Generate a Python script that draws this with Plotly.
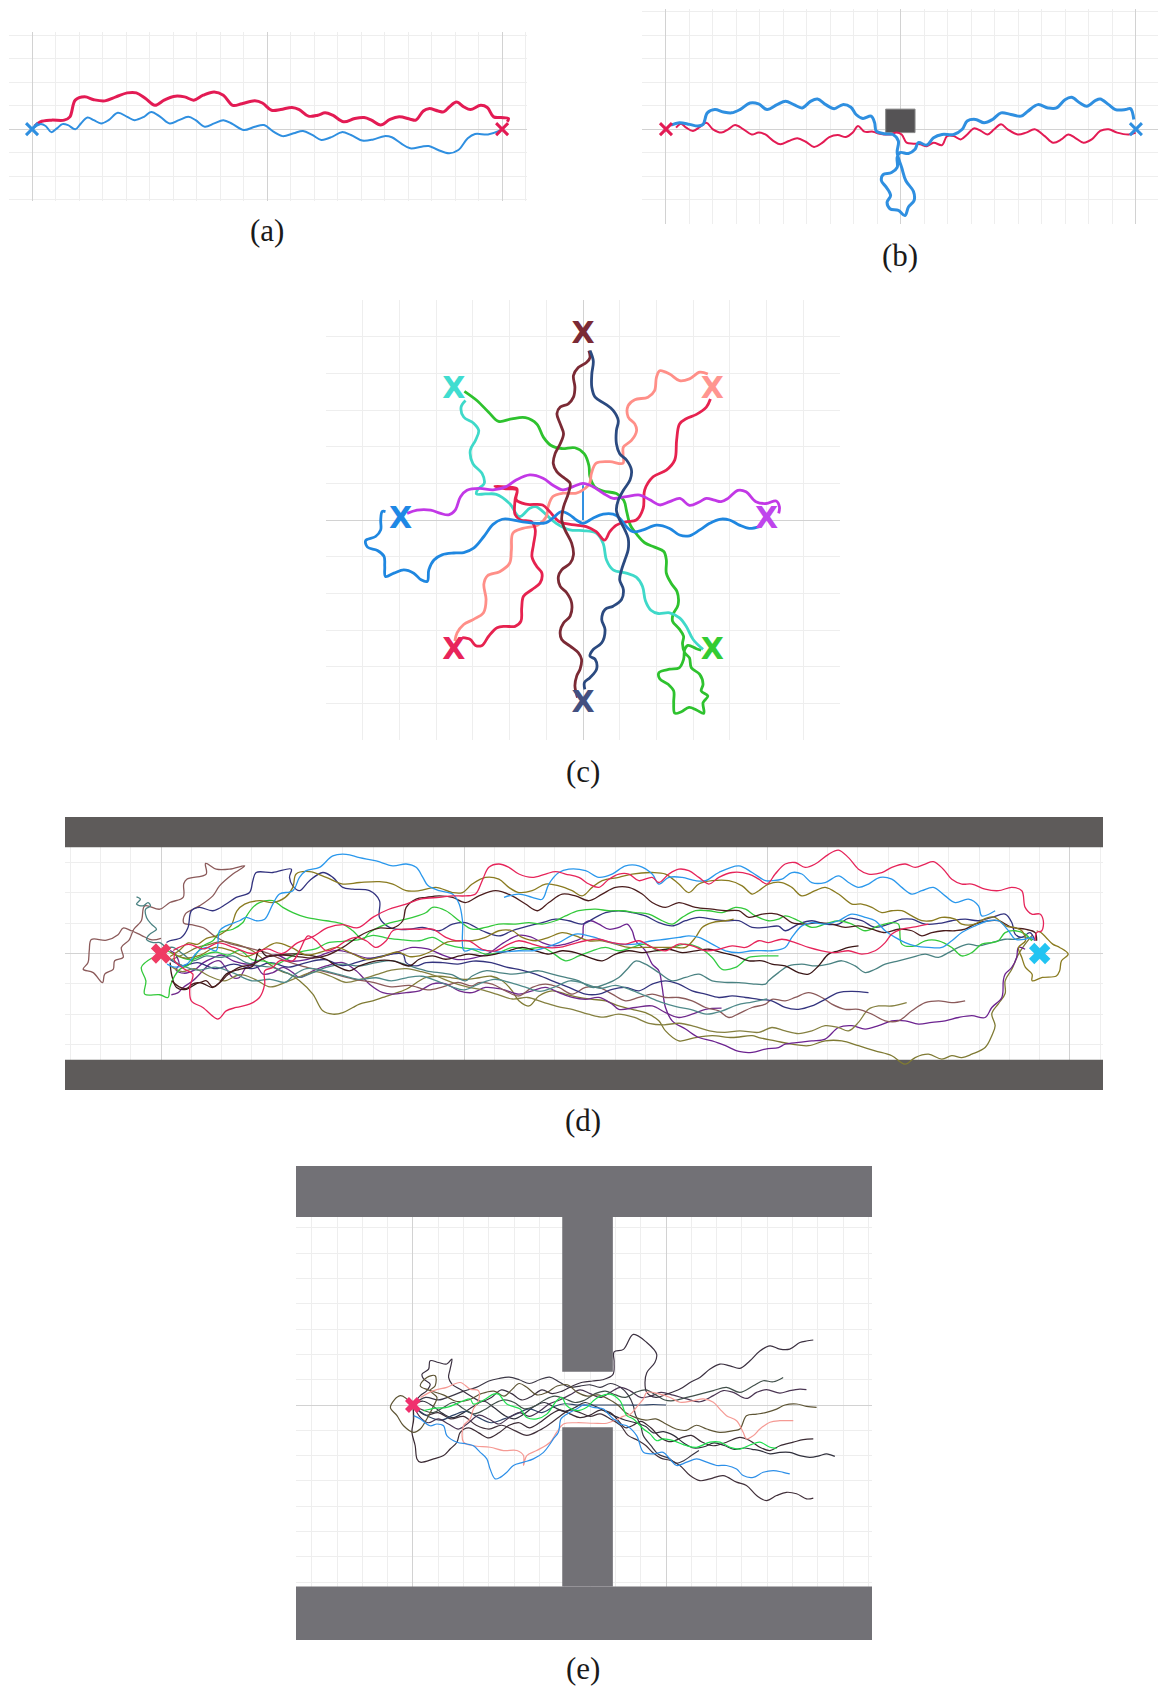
import plotly.graph_objects as go

# ---------------- DATA (grid units; 1 minor grid cell = 1 unit) ----------------
# Panel (a): two agents between start (0,0) and goal (20,0)
A_RED = [(0.11,0.13),(0.35,0.31),(0.82,0.38),(1.37,0.38),(1.61,0.52),(1.84,1.23),(2.24,1.37),(2.63,1.25),(3.10,1.20),(3.57,1.37),(4.05,1.54),(4.44,1.54),(4.83,1.30),(5.23,1.01),(5.62,1.23),(6.02,1.39),(6.49,1.37),(6.88,1.23),(7.28,1.44),(7.75,1.58),(8.14,1.44),(8.54,1.01),(8.93,1.08),(9.48,1.20),(9.80,1.11),(10.19,0.80),(10.58,0.83),(11.06,0.92),(11.37,0.83),(11.76,0.55),(12.16,0.59),(12.47,0.69),(12.79,0.59),(13.26,0.31),(13.73,0.45),(14.13,0.49),(14.44,0.38),(14.83,0.17),(15.23,0.41),(15.62,0.52),(16.09,0.42),(16.33,0.38),(16.65,0.77),(16.88,0.87),(17.28,0.77),(17.51,0.73),(17.75,0.94),(18.06,1.15),(18.38,0.94),(18.65,0.83),(19.09,1.01),(19.37,0.92),(19.64,0.52),(19.95,0.49),(20.27,0.45),(20.22,0.31)]
A_BLUE = [(0,0),(0.35,0.21),(0.58,0.13),(0.82,-0.13),(1.06,0.03),(1.29,0.21),(1.53,0.17),(1.84,-0.01),(2.08,0.24),(2.36,0.49),(2.63,0.38),(2.94,0.24),(3.26,0.38),(3.65,0.69),(4.05,0.52),(4.36,0.38),(4.76,0.52),(5.07,0.73),(5.46,0.52),(5.86,0.24),(6.25,0.38),(6.65,0.52),(6.96,0.38),(7.35,0.10),(7.75,0.24),(8.14,0.38),(8.54,0.21),(9.01,-0.04),(9.48,0.10),(9.87,0.17),(10.27,-0.11),(10.66,-0.30),(11.13,-0.18),(11.53,-0.08),(11.92,-0.25),(12.31,-0.46),(12.79,-0.32),(13.18,-0.13),(13.57,-0.25),(14.05,-0.49),(14.52,-0.44),(14.99,-0.30),(15.31,-0.35),(15.70,-0.61),(16.09,-0.82),(16.57,-0.75),(16.88,-0.72),(17.28,-0.89),(17.75,-1.03),(18.14,-0.89),(18.54,-0.39),(18.85,-0.21),(19.40,-0.23),(19.87,-0.08),(20,0)]
A_MARKS = {"blue": (0, 0), "red": (20, 0)}

# Panel (b): obstacle in the middle
B_OBSTACLE = (9.35, 10.6, -0.15, 0.85)   # x0, x1, y0, y1
B_BLUE = [(0.21,0.17),(0.57,0.27),(1.0,0.2),(1.36,0.13),(1.58,0.2),(1.76,0.69),(2.08,0.83),(2.44,0.73),(2.79,0.69),(3.15,0.83),(3.58,1.11),(3.94,1.07),(4.3,0.83),(4.73,1.04),(5.09,1.18),(5.44,1.04),(5.80,0.90),(6.15,1.18),(6.45,1.28),(6.8,1.04),(7.16,0.87),(7.52,1.04),(7.87,0.93),(8.09,0.62),(8.38,0.45),(8.73,0.55),(8.88,0.27),(8.95,-0.08),(9.31,-0.20),(9.66,-0.23),(9.89,-0.51),(9.84,-1.0),(10.03,-1.63),(10.21,-2.20),(10.53,-2.65),(10.56,-3.04),(10.32,-3.32),(10.17,-3.68),(9.89,-3.46),(9.53,-3.39),(9.41,-3.11),(9.56,-2.83),(9.38,-2.48),(9.17,-2.20),(9.24,-1.94),(9.60,-1.85),(9.84,-1.63),(9.84,-1.21),(9.96,-1.0),(10.32,-1.04),(10.60,-0.86),(10.74,-0.58),(11.10,-0.68),(11.39,-0.37),(11.75,-0.23),(12.25,-0.23),(12.61,-0.01),(12.82,0.34),(13.18,0.41),(13.54,0.27),(13.90,0.41),(14.26,0.69),(14.68,0.62),(15.11,0.55),(15.40,0.76),(15.83,1.04),(16.26,0.90),(16.62,0.90),(16.98,1.25),(17.26,1.35),(17.62,1.11),(17.91,0.97),(18.27,1.21),(18.48,1.28),(18.84,1.04),(19.13,0.83),(19.56,0.83),(19.77,0.87),(19.91,0.41)]
B_RED = [(0.43,0.06),(0.64,0.23),(0.86,0.06),(1.15,-0.08),(1.43,0.08),(1.72,0.27),(2.0,-0.01),(2.36,-0.15),(2.65,-0.01),(2.94,0.17),(3.30,-0.01),(3.65,-0.23),(3.94,-0.15),(4.23,-0.23),(4.58,-0.51),(4.87,-0.65),(5.23,-0.51),(5.59,-0.39),(5.95,-0.54),(6.30,-0.76),(6.66,-0.58),(6.95,-0.34),(7.31,-0.25),(7.66,-0.34),(7.95,-0.15),(8.17,0.13),(8.45,-0.11),(8.81,-0.11),(9.10,-0.20),(9.53,-0.23),(9.81,-0.15),(10.03,-0.23),(10.24,-0.58),(10.53,-0.62),(10.82,-0.65),(11.10,-0.73),(11.39,-0.58),(11.75,-0.68),(11.96,-0.30),(12.25,-0.30),(12.54,-0.44),(12.82,-0.23),(13.11,0.03),(13.40,-0.08),(13.68,-0.23),(13.97,-0.01),(14.26,0.20),(14.54,-0.01),(14.97,-0.23),(15.33,-0.15),(15.69,-0.01),(16.12,-0.30),(16.48,-0.58),(16.83,-0.44),(17.12,-0.23),(17.41,-0.37),(17.77,-0.58),(18.12,-0.44),(18.48,-0.08),(18.84,-0.01),(19.2,-0.15),(19.70,-0.23),(19.99,-0.15)]
B_MARKS = {"red": (0, 0), "blue": (20, 0)}

# Panel (c): eight agents swapping across a circle of radius 5
C_DARKRED = [(0.16,4.62),(0.19,4.43),(0.10,4.30),(-0.13,4.16),(-0.26,3.94),(-0.22,3.62),(-0.26,3.35),(-0.40,3.17),(-0.62,3.08),(-0.71,2.90),(-0.62,2.62),(-0.53,2.35),(-0.62,2.08),(-0.76,1.81),(-0.81,1.54),(-0.71,1.31),(-0.49,1.13),(-0.35,1.00),(-0.40,0.72),(-0.53,0.36),(-0.58,0.0),(-0.49,-0.27),(-0.31,-0.63),(-0.26,-0.95),(-0.35,-1.18),(-0.58,-1.36),(-0.67,-1.54),(-0.62,-1.81),(-0.44,-1.99),(-0.31,-2.26),(-0.35,-2.62),(-0.53,-2.81),(-0.62,-3.03),(-0.58,-3.26),(-0.35,-3.44),(-0.13,-3.62),(-0.04,-3.80),(-0.08,-4.07),(-0.17,-4.25),(-0.22,-4.52),(-0.15,-4.84)]
C_NAVY = [(0.05,-4.62),(0.04,-4.43),(0.19,-4.30),(0.37,-4.07),(0.33,-3.80),(0.19,-3.71),(0.28,-3.53),(0.51,-3.35),(0.60,-2.99),(0.51,-2.71),(0.60,-2.44),(0.82,-2.35),(1.05,-2.17),(1.10,-1.90),(1.00,-1.63),(1.05,-1.36),(1.14,-1.09),(1.23,-0.81),(1.23,-0.50),(1.14,-0.27),(1.00,0.0),(0.91,0.27),(0.96,0.54),(1.10,0.81),(1.28,1.09),(1.32,1.36),(1.19,1.63),(1.00,1.81),(0.91,2.08),(0.91,2.44),(0.96,2.71),(0.82,2.99),(0.60,3.17),(0.33,3.35),(0.24,3.62),(0.24,3.98),(0.28,4.34),(0.19,4.62)]
C_SALMON = [(3.40,3.98),(3.18,4.03),(2.90,3.85),(2.63,3.80),(2.36,3.98),(2.09,4.07),(2.00,3.89),(1.95,3.53),(1.77,3.35),(1.41,3.28),(1.23,3.12),(1.23,2.81),(1.41,2.62),(1.46,2.44),(1.32,2.17),(1.10,1.99),(1.09,1.80),(1.09,1.55),(0.73,1.59),(0.36,1.55),(0.23,1.27),(0.18,1.0),(0.0,0.82),(-0.18,0.73),(-0.55,0.73),(-0.82,0.64),(-0.95,0.36),(-1.0,0.09),(-1.23,-0.14),(-1.64,-0.23),(-1.91,-0.36),(-1.95,-0.82),(-2.0,-1.18),(-2.27,-1.41),(-2.60,-1.52),(-2.70,-1.75),(-2.64,-2.17),(-2.71,-2.53),(-2.98,-2.71),(-3.25,-2.85),(-3.43,-3.08),(-3.49,-3.30)]
C_CRIMSON = [(-3.29,-3.21),(-3.07,-3.26),(-2.93,-3.42),(-2.75,-3.42),(-2.57,-3.17),(-2.34,-2.94),(-2.12,-2.90),(-1.85,-2.90),(-1.69,-2.76),(-1.67,-2.40),(-1.62,-2.08),(-1.39,-1.90),(-1.17,-1.72),(-1.12,-1.45),(-1.26,-1.27),(-1.39,-1.00),(-1.35,-0.68),(-1.30,-0.27),(-1.40,-0.05),(-1.70,0.0),(-1.85,0.15),(-1.85,0.55),(-1.80,0.85),(-2.10,0.90),(-2.40,0.92),(-2.10,0.85),(-1.80,0.82),(-1.82,0.55),(-1.55,0.43),(-1.10,0.41),(-0.91,0.23),(-0.64,-0.05),(-0.18,-0.14),(0.09,-0.18),(0.36,-0.32),(0.59,-0.55),(0.73,-0.32),(0.91,-0.14),(1.18,-0.05),(1.45,0.0),(1.64,0.32),(1.68,0.82),(1.91,1.18),(2.27,1.36),(2.50,1.64),(2.55,2.18),(2.63,2.62),(2.81,2.76),(3.09,2.88),(3.36,3.08),(3.47,3.30)]
C_TURQUOISE = [(-3.20,3.26),(-3.32,3.08),(-3.25,2.81),(-2.98,2.64),(-2.84,2.44),(-2.93,2.17),(-3.07,1.90),(-3.00,1.54),(-2.75,1.27),(-2.69,1.00),(-2.87,0.83),(-2.90,0.71),(-2.66,0.71),(-2.36,0.70),(-2.0,0.45),(-1.73,0.09),(-1.45,0.32),(-1.27,0.36),(-1.0,0.14),(-0.73,-0.09),(-0.36,-0.27),(0.0,-0.29),(0.36,-0.36),(0.55,-0.64),(0.64,-1.09),(0.82,-1.36),(1.18,-1.45),(1.45,-1.56),(1.62,-1.81),(1.70,-2.20),(1.85,-2.46),(2.05,-2.55),(2.36,-2.53),(2.63,-2.67),(2.81,-2.90),(3.00,-3.26),(3.27,-3.53)]
C_GREEN = [(-3.23,3.51),(-2.89,3.26),(-2.57,2.94),(-2.30,2.69),(-1.94,2.76),(-1.57,2.79),(-1.26,2.62),(-1.08,2.26),(-0.88,2.04),(-0.58,1.95),(-0.22,1.97),(0.03,1.81),(0.16,1.49),(0.19,1.18),(0.33,0.89),(0.55,0.79),(0.91,0.72),(1.11,0.54),(1.19,0.23),(1.29,-0.14),(1.48,-0.41),(1.68,-0.62),(1.95,-0.74),(2.20,-0.86),(2.27,-1.09),(2.27,-1.45),(2.41,-1.74),(2.56,-1.95),(2.59,-2.31),(2.45,-2.58),(2.44,-2.76),(2.62,-2.97),(2.74,-3.17),(2.71,-3.37),(2.77,-3.62),(2.90,-3.76),(2.95,-4.03),(3.18,-4.21),(3.27,-4.48),(3.22,-4.66),(3.40,-4.80),(3.27,-4.98),(3.29,-5.27),(3.09,-5.18),(2.89,-5.11),(2.68,-5.23),(2.50,-5.27),(2.47,-4.98),(2.47,-4.66),(2.32,-4.48),(2.09,-4.33),(2.07,-4.16),(2.36,-4.07),(2.62,-4.03),(2.74,-3.80),(2.77,-3.53),(2.86,-3.42),(3.09,-3.51),(3.22,-3.55)]
C_PURPLE = [(-4.79,0.18),(-4.52,0.27),(-4.15,0.27),(-3.88,0.18),(-3.66,0.14),(-3.48,0.27),(-3.34,0.63),(-3.16,0.81),(-2.82,0.86),(-2.45,0.82),(-2.09,0.91),(-1.82,1.09),(-1.45,1.23),(-1.09,1.14),(-0.82,0.95),(-0.55,0.82),(-0.27,0.91),(0.0,1.0),(0.27,0.91),(0.55,0.73),(0.82,0.59),(1.18,0.64),(1.55,0.68),(1.82,0.55),(2.09,0.41),(2.36,0.5),(2.64,0.59),(2.90,0.40),(3.18,0.50),(3.36,0.59),(3.58,0.54),(3.76,0.50),(3.95,0.59),(4.22,0.81),(4.44,0.77),(4.71,0.50),(4.99,0.45),(5.26,0.52),(5.35,0.36),(5.33,0.18)]
C_BLUE = [(-5.38,0.23),(-5.47,0.23),(-5.51,0.0),(-5.51,-0.27),(-5.65,-0.45),(-5.92,-0.56),(-5.87,-0.74),(-5.60,-0.83),(-5.42,-0.99),(-5.40,-1.27),(-5.38,-1.54),(-5.15,-1.45),(-4.88,-1.36),(-4.61,-1.45),(-4.41,-1.63),(-4.24,-1.67),(-4.20,-1.36),(-4.06,-1.09),(-3.84,-0.95),(-3.52,-0.90),(-3.25,-0.89),(-2.98,-0.77),(-2.70,-0.45),(-2.45,-0.12),(-2.2,0.02),(-2.0,0.02),(-1.64,-0.05),(-1.27,-0.09),(-1.0,-0.07),(-0.82,0.05),(-0.59,0.23),(-0.36,0.14),(-0.18,0.0),(0.0,-0.09),(0.27,0.05),(0.55,0.16),(0.82,0.16),(1.0,0.05),(1.18,-0.18),(1.36,-0.32),(1.64,-0.27),(2.0,-0.14),(2.36,-0.23),(2.63,-0.41),(2.90,-0.43),(3.18,-0.27),(3.45,-0.09),(3.72,0.02),(3.99,0.0),(4.26,-0.14),(4.53,-0.23),(4.81,-0.18)]
C_BLUE_STEM = [(0.0,0.0),(0.0,0.95)]
C_MARKS = [("#7b2a35",(0,5.02)),("#ff9590",(3.52,3.53)),("#bf45ec",(5.0,0.0)),("#33cc33",(3.52,-3.58)),("#435080",(0,-5.02)),("#e8245a",(-3.52,-3.58)),("#1e88e5",(-4.97,0.0)),("#40ddd0",(-3.52,3.53))]

# Panel (d): many agents in a corridor, start (0,0) goal (29,0)
D_WALLS = [(3.5, 4.5), (-4.5, -3.5)]
D_CRIMSON_TOP = [(0.4,0.1),(0.9,0.3),(1.4,0.15),(1.9,0.35),(2.4,0.2),(3.0,0.0),(3.5,0.15),(4.0,0.0),(4.5,0.35),(5.0,0.55),(5.5,0.85),(6.0,0.95),(6.5,0.85),(7.0,1.2),(7.5,1.45),(8.0,1.6),(8.6,1.8),(9.18,1.85),(9.62,1.90),(10.05,1.90),(10.38,1.96),(10.60,2.40),(10.82,2.84),(11.15,2.95),(11.48,2.84),(11.81,2.62),(12.25,2.51),(12.69,2.62),(13.02,2.70),(13.35,2.62),(13.79,2.51),(14.12,2.29),(14.45,2.18),(14.78,2.45),(15.11,2.62),(15.44,2.62),(15.77,2.40),(16.21,2.51),(16.43,2.34),(16.76,2.62),(17.09,2.78),(17.42,2.73),(17.75,2.51),(18.08,2.29),(18.41,2.51),(18.85,2.67),(19.40,2.62),(19.73,2.45),(20.00,2.29),(20.27,2.62),(20.60,2.95),(20.93,3.00),(21.26,2.84),(21.59,2.95),(22.03,3.27),(22.36,3.41),(22.69,3.16),(23.02,2.78),(23.35,2.62),(23.79,2.67),(24.12,2.84),(24.56,2.95),(24.89,2.84),(25.22,2.95),(25.49,3.03),(25.82,2.78),(26.10,2.45),(26.43,2.29),(26.76,2.29),(27.20,2.12),(27.64,2.07),(28.08,2.18),(28.41,2.07),(28.52,1.52),(28.74,1.30),(29.01,1.30),(29.12,1.08),(29.07,0.75),(28.90,0.69),(28.85,0.42)]
D_CRIMSON_MID = [(0.45,0.03),(0.45,-0.24),(0.78,-0.52),(1.05,-0.68),(0.95,-1.12),(1.00,-1.56),(1.38,-1.78),(1.88,-2.16),(2.15,-1.89),(2.48,-1.78),(2.92,-1.67),(3.25,-1.45),(3.42,-1.01),(3.42,-0.57),(3.69,-0.46),(3.91,-0.24),(4.35,-0.24),(4.57,0.09),(4.85,0.58),(5.12,0.42),(5.45,0.09),(5.78,0.20),(6.11,0.42),(6.44,0.53),(6.77,0.42),(7.10,0.20),(7.43,0.42),(7.65,0.75),(8.20,0.80),(8.52,0.80),(8.96,0.80),(9.40,0.53),(9.73,0.42),(10.16,0.42),(10.60,0.14),(11.04,0.09),(11.48,0.31),(11.81,0.42),(12.25,0.31),(12.69,0.20),(13.13,0.20),(13.57,0.31),(14.01,0.42),(14.45,0.47),(14.89,0.36),(15.33,0.31),(15.77,0.42),(16.21,0.20),(16.65,0.09),(17.09,0.31),(17.53,0.25),(17.97,0.09),(18.41,0.14),(18.85,0.25),(19.29,0.20),(19.73,0.42),(20.05,0.36),(20.49,0.47),(20.93,0.36),(21.37,0.20),(21.81,0.09),(22.25,0.03),(22.69,0.09),(23.13,-0.02),(23.57,0.09),(23.90,0.36),(24.12,0.64),(24.45,0.80),(24.89,0.88),(25.33,0.97)]
D_BLUE_A = [(0.20,-0.35),(0.45,-0.45),(0.85,-0.35),(1.20,0.05),(1.50,0.20),(1.82,0.09),(1.93,0.75),(2.15,0.91),(2.59,1.08),(2.81,1.19),(3.14,1.08),(3.42,1.13),(3.69,1.63),(3.91,1.96),(4.35,2.07),(4.57,2.51),(4.79,2.73),(5.23,2.84),(5.67,3.22),(6.11,3.27),(6.55,3.16),(7.10,3.05),(7.65,2.89),(8.09,2.95),(8.42,2.84),(8.64,2.51),(8.80,2.25),(9.18,2.07),(9.62,1.96),(9.84,1.63),(9.95,1.08),(10.00,0.09),(10.30,0.15),(10.70,0.10),(11.20,0.05),(11.81,0.09),(12.25,0.09),(12.69,0.20),(13.13,0.36),(13.68,0.64),(14.12,0.58),(14.67,0.42),(15.11,0.31),(15.66,0.31),(16.21,0.42),(16.65,0.47),(17.09,0.53),(17.42,0.58),(17.75,0.53),(18.19,0.31),(18.63,0.09),(19.07,0.03),(19.51,0.09),(19.95,0.09),(20.16,0.09),(20.60,0.20),(20.82,0.53),(21.15,0.91),(21.48,1.02),(21.92,0.97),(22.36,1.08),(22.80,1.30),(23.24,1.19),(23.57,1.08),(23.90,0.75),(24.23,0.53),(24.56,0.36),(24.89,0.25),(25.33,0.20),(25.77,0.20),(26.10,0.42),(26.43,0.69),(26.87,0.91),(27.31,1.08),(27.64,1.08),(27.97,0.75),(28.19,0.47),(28.52,0.47),(28.74,0.53),(28.85,0.42)]
D_BLUE_B = [(11.32,1.85),(11.81,1.96),(12.25,1.85),(12.58,1.79),(12.80,2.29),(13.13,2.67),(13.46,2.78),(14.01,2.73),(14.45,2.51),(14.89,2.62),(15.33,2.89),(15.77,2.89),(16.21,2.62),(16.43,2.29),(16.76,2.51),(17.20,2.51),(17.64,2.40),(17.97,2.40),(18.41,2.67),(19.07,2.89),(19.51,2.67),(19.95,2.40),(20.16,2.40),(20.49,2.45),(20.82,2.67),(21.15,2.62),(21.48,2.34),(21.92,2.34),(22.36,2.56),(22.69,2.34),(23.02,2.18),(23.35,2.29),(23.73,2.51),(24.12,2.45),(24.45,2.18),(24.78,1.96),(25.11,2.07),(25.49,2.18),(25.88,1.90),(26.21,1.68),(26.65,1.79),(26.98,1.57),(27.09,1.24),(27.53,1.41)]
D_OLIVE_TOP = [(0.3,-0.1),(0.6,0.1),(0.9,0.35),(1.2,0.3),(1.5,0.5),(1.9,0.6),(2.3,0.9),(2.5,1.4),(2.76,1.63),(3.25,1.74),(3.69,1.68),(4.10,1.85),(4.35,2.18),(4.46,2.62),(4.90,2.70),(5.45,2.51),(6.00,2.29),(6.55,2.34),(7.21,2.37),(7.65,2.29),(8.09,2.07),(8.52,2.07),(9.07,2.18),(9.62,2.01),(9.95,2.01),(10.27,2.29),(10.71,2.51),(11.15,2.45),(11.48,2.18),(11.81,2.01),(12.25,2.07),(12.69,2.29),(13.13,2.23),(13.57,2.07),(13.90,1.90),(14.23,2.18),(14.56,2.40),(15.11,2.51),(15.55,2.62),(16.21,2.67),(16.65,2.62),(17.09,2.29),(17.42,2.01),(17.75,2.29),(18.19,2.40),(18.74,2.40),(19.18,2.23),(19.51,1.96),(19.73,2.07),(20.05,2.29),(20.49,2.34),(20.82,2.18),(21.15,1.90),(21.59,2.07),(21.92,2.18),(22.36,1.96),(22.80,1.63),(23.13,1.63),(23.46,1.52),(23.79,1.35),(24.12,1.41),(24.45,1.41),(24.78,1.24),(25.11,1.08),(25.44,1.08),(25.77,1.19),(26.21,1.13),(26.43,0.97),(26.80,0.95),(27.20,1.15),(27.50,1.20),(27.90,0.90),(28.20,0.85),(28.41,0.75),(28.53,0.42),(28.30,0.20),(28.41,-0.13),(28.53,-0.46),(28.75,-0.68),(28.75,-0.90),(29.09,-0.79),(29.55,-0.74),(29.66,-0.57),(29.72,-0.24),(29.94,-0.02),(29.66,0.20),(29.43,0.31),(29.21,0.53),(29.04,0.69),(28.90,0.75)]
D_OLIVE_MID = [(0.3,0.05),(0.8,-0.15),(1.3,-0.05),(1.8,0.2),(2.3,0.1),(2.8,-0.1),(3.3,0.1),(3.8,0.35),(4.3,0.2),(4.8,-0.05),(5.3,0.05),(5.8,0.2),(6.3,0.0),(6.8,-0.2),(7.3,-0.1),(7.8,0.05),(8.2,-0.1),(8.52,-0.08),(8.96,0.09),(9.40,0.36),(9.84,0.42),(10.27,0.42),(10.71,0.53),(11.15,0.75),(11.59,0.75),(11.92,0.53),(12.36,0.42),(12.80,0.53),(13.24,0.69),(13.68,0.58),(14.12,0.42),(14.56,0.42),(15.00,0.31),(15.44,0.20),(15.88,0.20),(16.43,0.20),(16.98,0.20),(17.31,0.20),(17.64,0.53),(17.86,0.86),(18.19,1.02),(18.63,1.08),(18.90,1.13)]
D_BROWN_TOP = [(0.35,-0.9),(0.6,-1.1),(0.85,-1.15),(1.05,-1.0),(1.3,-0.95),(1.5,-0.9),(1.7,-1.1),(1.95,-0.95),(2.2,-0.7),(2.6,-0.45),(3.05,-0.35),(3.5,-0.1),(4.0,-0.05),(4.5,-0.1),(5.0,-0.15),(5.5,-0.05),(6.0,0.2),(6.5,0.55),(6.9,0.75),(7.2,0.84),(7.65,0.84),(7.98,1.08),(8.09,1.52),(8.42,1.79),(8.75,1.85),(9.18,1.90),(9.62,1.85),(10.05,1.68),(10.49,1.90),(11.04,2.07),(11.59,1.90),(12.03,1.63),(12.42,1.41),(12.80,1.68),(13.24,1.96),(13.68,1.90),(14.12,1.74),(14.56,1.96),(15.00,2.18),(15.44,2.18),(15.88,1.96),(16.21,1.68),(16.65,1.52),(17.09,1.68),(17.64,1.52),(18.19,1.46),(18.63,1.41),(19.07,1.41),(19.40,1.19),(19.84,1.30),(20.16,1.32),(20.49,1.24),(20.82,1.02),(21.26,0.97),(21.70,1.02),(22.14,0.97),(22.58,0.86),(23.02,0.91),(23.46,0.80),(23.90,0.69),(24.34,0.80),(24.78,0.75),(25.11,0.58),(25.44,0.69),(25.82,0.75),(26.21,0.75),(26.54,0.80),(26.87,0.97),(27.31,1.08),(27.64,1.08),(28.08,0.86),(28.52,0.80),(28.85,0.69),(28.90,0.42)]
D_GREEN_TOP = [(-0.3,-0.15),(-0.65,-0.46),(-0.50,-0.90),(-0.54,-1.34),(-0.04,-1.36),(0.23,-1.45),(0.29,-1.12),(0.45,-0.74),(0.62,-0.52),(0.95,-0.35),(1.16,-0.02),(1.38,0.25),(1.71,0.42),(1.93,0.69),(2.37,0.80),(2.70,1.02),(2.80,1.20),(3.03,1.52),(3.25,1.68),(3.69,1.74),(4.02,1.52),(4.35,1.35),(4.79,1.19),(5.45,1.08),(6.00,0.97),(6.33,0.75),(6.66,0.47),(6.88,0.69),(7.43,0.97),(7.87,1.08),(8.31,1.19),(8.75,1.35),(8.96,1.52),(9.40,1.41),(9.84,1.08),(10.27,0.80),(10.71,0.86),(11.15,0.97),(11.70,0.97),(12.14,1.02),(12.58,0.97),(13.02,1.08),(13.35,1.24),(13.79,1.41),(14.34,1.46),(14.78,1.41),(15.22,1.41),(15.66,1.35),(16.10,1.30),(16.54,1.08),(16.87,0.97),(17.20,1.19),(17.64,1.41),(18.08,1.41),(18.52,1.35),(18.96,1.52),(19.29,1.46),(19.62,1.24),(20.05,1.08),(20.38,1.13),(20.60,1.24),(21.04,1.08),(21.48,0.86),(21.92,0.97),(22.36,1.08),(22.80,0.97),(23.24,0.75),(23.68,0.91),(24.12,1.02),(24.34,0.97),(24.45,0.31),(24.89,0.25),(25.22,0.42),(25.66,0.42),(26.10,0.20),(26.43,-0.08),(26.76,0.03),(27.09,0.31),(27.42,0.36),(27.64,0.42),(27.86,0.69),(28.19,0.75),(28.52,0.64),(28.74,0.42)]
D_NAVY_TOP = [(0.18,0.36),(0.29,0.42),(0.67,0.53),(0.89,0.86),(1.00,1.41),(1.27,1.52),(1.71,1.41),(2.15,1.63),(2.48,1.85),(2.92,2.01),(3.03,2.40),(3.14,2.67),(3.69,2.67),(4.30,2.78),(4.24,2.51),(4.35,2.23),(4.57,2.07),(4.90,2.40),(5.34,2.67),(5.67,2.51),(6.00,2.18),(6.33,2.12),(6.88,2.07),(7.21,1.74),(7.21,1.19),(7.54,0.86),(7.76,0.80),(8.20,0.80),(8.63,0.86),(9.18,0.75),(9.62,0.97),(10.05,1.02),(10.60,0.75),(11.15,0.58),(11.59,0.75),(12.14,0.91),(12.58,1.02),(13.02,1.13),(13.46,1.08),(13.90,0.97),(14.34,1.19),(14.67,1.35),(15.11,1.41),(15.55,1.35),(15.99,1.24),(16.43,1.02),(16.87,0.91),(17.31,1.08),(17.75,1.19),(18.19,1.13),(18.63,1.08),(19.07,1.08),(19.51,0.86),(19.95,0.86),(20.38,0.90),(20.60,0.75),(21.04,0.97),(21.48,1.08),(21.92,0.97),(22.36,0.97),(22.69,1.16),(23.13,1.08),(23.57,0.86),(24.01,0.97),(24.45,1.13),(24.78,1.13),(25.22,0.97),(25.66,0.99),(26.10,1.08),(26.54,1.13),(26.98,1.08),(27.42,1.19),(27.86,1.30),(28.08,1.02),(28.19,0.64),(28.41,0.53),(28.68,0.69),(28.85,0.42)]
D_DARK_MID = [(0.30,-0.30),(0.35,-0.70),(0.51,-1.12),(0.84,-1.18),(1.27,-0.96),(1.71,-1.12),(1.93,-0.96),(2.15,-0.68),(2.59,-0.52),(3.03,-0.41),(3.25,0.14),(3.47,-0.08),(4.13,-0.02),(4.57,-0.02),(5.01,-0.08),(5.45,-0.19),(5.78,-0.41),(6.22,-0.57),(6.55,-0.41),(7.10,-0.24),(7.65,-0.24),(8.20,-0.41),(8.52,-0.19),(8.96,-0.08),(9.40,-0.19),(9.84,-0.08),(10.16,-0.02),(10.60,-0.08),(11.04,-0.02),(11.48,0.09),(11.92,0.20),(12.36,0.09),(12.80,-0.02),(13.24,0.09),(13.68,0.03),(14.12,-0.13),(14.56,-0.24),(15.00,-0.02),(15.44,0.09),(15.88,0.03),(16.32,0.09),(16.76,0.14),(17.20,0.03),(17.64,0.09),(18.08,0.14),(18.52,0.03),(18.96,-0.08),(19.40,-0.24),(19.84,-0.24),(20.16,-0.35),(20.60,-0.41),(21.04,-0.63),(21.37,-0.68),(21.70,-0.41),(22.03,-0.02),(22.36,0.09),(22.69,0.20),(23.02,0.25)]
D_GREEN_MID = [(0.2,0.1),(0.6,-0.1),(1.0,-0.2),(1.4,-0.05),(1.8,0.05),(2.2,-0.05),(2.6,0.1),(3.0,-0.2),(3.4,-0.25),(3.8,-0.35),(4.2,-0.15),(4.6,0.05),(5.1,0.15),(5.5,0.35),(6.0,0.4),(6.5,0.45),(7.0,0.6),(7.5,0.5),(8.0,0.45),(8.52,0.42),(8.96,0.53),(9.40,0.31),(9.84,0.20),(10.27,0.14),(10.71,-0.02),(11.15,0.03),(11.59,0.20),(12.03,0.14),(12.58,0.20),(12.91,0.03),(13.35,-0.24),(13.79,-0.08),(14.23,0.09),(14.67,0.20),(15.11,0.09),(15.55,0.20),(15.99,0.31),(16.43,0.09),(16.87,0.20),(17.31,0.31),(17.75,0.20),(18.19,-0.13),(18.52,-0.52),(18.96,-0.46),(19.40,-0.13),(19.84,-0.08),(20.38,-0.08)]
D_TEAL = [(-0.81,1.87),(-0.68,1.79),(-0.81,1.63),(-0.59,1.57),(-0.43,1.68),(-0.35,1.57),(-0.51,1.46),(-0.48,1.19),(-0.32,0.97),(-0.15,0.80),(-0.37,0.64),(-0.48,0.47),(-0.26,0.36),(-0.04,0.36),(0.18,0.20),(0.40,0.20),(0.73,-0.02),(1.05,-0.24),(1.49,-0.08),(1.93,-0.13),(2.37,-0.08),(2.81,-0.30),(3.25,-0.41),(3.69,-0.46),(4.13,-0.63),(4.57,-0.79),(5.01,-0.63),(5.45,-0.46),(6.00,-0.35),(6.55,-0.41),(7.10,-0.30),(7.65,-0.24),(8.20,-0.41),(8.75,-0.57),(9.30,-0.65),(9.60,-0.70),(10.05,-0.90),(10.27,-0.74),(10.71,-0.57),(11.15,-0.63),(11.59,-0.68),(12.03,-0.63),(12.47,-0.57),(12.91,-0.68),(13.35,-0.79),(13.79,-0.90),(14.23,-1.12),(14.67,-1.01),(15.11,-0.79),(15.40,-0.50),(15.66,-0.25),(15.99,-0.35),(16.43,-0.63),(16.87,-0.90),(17.31,-0.79),(17.75,-0.68),(18.19,-0.90),(18.60,-0.95),(19.07,-0.96),(19.50,-1.00),(19.95,-1.01),(20.05,-0.90),(20.38,-0.63),(20.71,-0.41),(21.15,-0.35),(21.59,-0.41),(22.03,-0.35),(22.47,-0.24),(22.91,-0.41),(23.24,-0.63),(23.57,-0.52),(23.90,-0.35),(24.34,-0.24),(24.78,-0.13),(25.22,-0.02),(25.66,-0.13),(25.99,0.03),(26.32,0.20),(26.65,0.31),(26.98,0.25),(27.42,0.36),(27.86,0.47),(28.19,0.47),(28.50,0.55),(28.80,0.45)]
D_NAVY_LOW = [(0.3,-0.2),(0.7,-0.4),(1.2,-0.3),(1.8,-0.5),(2.4,-0.35),(3.0,-0.5),(3.6,-0.3),(4.2,-0.45),(4.8,-0.3),(5.4,-0.2),(6.0,-0.4),(6.6,-0.25),(7.2,-0.1),(7.98,-0.02),(8.09,-0.30),(8.42,-0.41),(8.75,-0.30),(9.3,-0.3),(9.8,-0.35),(10.3,-0.25),(10.9,-0.3),(11.4,-0.45),(11.9,-0.55),(12.36,-0.68),(12.91,-0.90),(13.46,-1.12),(14.01,-1.34),(14.45,-1.34),(14.89,-1.18),(15.33,-1.12),(15.77,-1.23),(16.21,-1.01),(16.65,-0.90),(17.09,-1.01),(17.53,-1.23),(17.97,-1.34),(18.41,-1.45),(18.85,-1.40),(19.29,-1.45),(19.73,-1.51),(20.16,-1.56),(20.60,-1.78),(21.04,-1.84),(21.48,-1.73),(21.92,-1.51),(22.36,-1.29),(22.80,-1.25),(23.35,-1.29)]
D_MAUVE = [(0.0,0.5),(-0.3,0.45),(-0.65,0.6),(-0.98,0.75),(-1.25,0.84),(-1.42,0.62),(-1.80,0.44),(-2.30,0.46),(-2.37,0.09),(-2.41,-0.30),(-2.57,-0.52),(-2.24,-0.63),(-1.93,-0.96),(-1.86,-0.68),(-1.58,-0.52),(-1.53,-0.24),(-1.25,-0.13),(-1.31,0.20),(-1.05,0.45),(-0.9,0.8),(-0.65,1.08),(-0.54,1.57),(-0.04,1.46),(0.29,1.68),(0.73,1.85),(0.75,2.30),(0.85,2.45),(1.49,2.62),(1.47,2.97),(1.82,2.78),(2.26,2.78),(2.76,2.89),(2.37,2.62),(1.93,2.23),(1.71,1.90),(1.27,1.57),(0.8,1.3),(0.75,1.0),(1.0,0.95),(1.4,0.85),(1.8,0.55),(2.2,0.35),(2.8,0.2),(3.4,0.05),(4.0,-0.2),(4.6,-0.4),(5.2,-0.55),(5.8,-0.7),(6.4,-0.85),(7.0,-0.95),(7.6,-1.1),(8.2,-1.05),(8.8,-1.2),(9.3,-1.1),(9.8,-0.95),(10.27,-1.07),(10.49,-0.96),(10.93,-1.01),(11.37,-1.23),(11.81,-1.40),(12.25,-1.12),(12.69,-1.01),(13.13,-1.12),(13.57,-1.34),(14.01,-1.12),(14.45,-1.12),(14.89,-1.34),(15.33,-1.56),(15.77,-1.45),(16.21,-1.34),(16.65,-1.45),(17.09,-1.45),(17.53,-1.56),(17.97,-1.78),(18.41,-1.89),(18.74,-2.11),(19.07,-1.98),(19.51,-1.78),(19.95,-1.67),(20.16,-1.51),(20.60,-1.56),(20.93,-1.45),(21.37,-1.29),(21.81,-1.45),(22.14,-1.67),(22.58,-1.84),(23.02,-1.84),(23.46,-2.00),(23.90,-2.22),(24.34,-2.22),(24.78,-1.89),(25.22,-1.62),(25.66,-1.56),(26.10,-1.62),(26.54,-1.56)]
D_OLIVE_LONG = [(0.35,-0.2),(0.8,0.0),(1.2,0.2),(1.6,0.3),(2.0,0.4),(2.5,0.3),(3.0,0.1),(3.5,-0.3),(4.0,-0.6),(4.24,-0.68),(4.57,-0.90),(5.01,-1.34),(5.34,-1.89),(5.67,-2.00),(6.00,-1.95),(6.33,-1.78),(6.55,-1.67),(6.99,-1.56),(7.32,-1.45),(7.65,-1.34),(8.09,-1.18),(8.53,-0.90),(8.75,-0.79),(9.2,-0.75),(9.6,-0.8),(10.0,-0.85),(10.5,-0.8),(10.9,-0.75),(11.26,-0.90),(11.59,-1.23),(11.81,-1.56),(12.14,-1.73),(12.47,-1.40),(12.91,-1.23),(13.35,-1.34),(13.79,-1.45),(14.23,-1.51),(14.67,-1.56),(15.11,-1.73),(15.55,-1.84),(15.99,-1.95),(16.43,-2.22),(16.65,-2.55),(17.09,-2.88),(17.64,-2.77),(18.19,-2.71),(18.85,-2.77),(19.51,-2.71),(19.73,-2.77),(20.27,-2.88),(20.82,-2.99),(21.37,-3.04),(21.92,-2.88),(22.47,-2.88),(23.02,-3.04),(23.57,-3.21),(24.12,-3.37),(24.56,-3.65),(24.89,-3.43),(25.33,-3.32),(25.77,-3.48),(26.10,-3.37),(26.43,-3.43),(26.76,-3.32),(27.20,-3.10),(27.42,-2.71),(27.53,-2.38),(27.42,-1.98),(27.64,-1.65),(27.86,-1.32),(27.86,-0.90),(28.08,-0.52),(28.30,-0.02),(28.52,0.31),(28.75,0.60)]
D_OLIVE_LOW = [(0.3,-0.4),(0.7,-0.6),(1.1,-0.5),(1.6,-0.75),(2.1,-0.9),(2.6,-0.7),(3.1,-0.85),(3.6,-1.1),(4.1,-0.95),(4.6,-0.75),(5.1,-0.6),(5.6,-0.75),(6.1,-0.95),(6.6,-0.85),(7.1,-0.7),(7.6,-0.55),(8.1,-0.5),(8.6,-0.6),(9.1,-0.75),(9.6,-0.95),(10.1,-1.1),(10.6,-1.2),(11.1,-1.35),(11.6,-1.5),(12.1,-1.45),(12.6,-1.6),(13.1,-1.75),(13.6,-1.85),(14.1,-2.0),(14.6,-2.1),(15.1,-2.0),(15.6,-2.1),(16.1,-2.3),(16.6,-2.35),(17.1,-2.3),(17.6,-2.4),(18.1,-2.55),(18.6,-2.6),(19.1,-2.55),(19.73,-2.60),(20.16,-2.44),(20.60,-2.55),(21.04,-2.64),(21.48,-2.55),(21.92,-2.38),(22.36,-2.44),(22.69,-2.55),(23.02,-2.27),(23.35,-1.84),(23.68,-1.73),(24.12,-1.73),(24.61,-1.62)]
D_PURPLE_LOW = [(0.34,-1.36),(0.55,-1.30),(0.73,-1.12),(1.05,-0.90),(1.38,-0.57),(1.60,-0.35),(1.93,-0.24),(2.15,-0.50),(2.37,-0.79),(2.59,-0.79),(2.81,-0.46),(3.14,-0.41),(3.36,-0.68),(3.69,-0.63),(4.02,-0.46),(4.35,-0.63),(4.57,-0.79),(5.01,-0.57),(5.45,-0.41),(6.00,-0.30),(6.44,-0.57),(6.88,-1.01),(7.32,-1.29),(7.65,-1.34),(8.09,-1.29),(8.53,-1.23),(8.96,-1.00),(9.40,-1.00),(9.84,-1.23),(10.27,-1.29),(10.71,-1.12),(11.26,-1.18),(11.81,-1.34),(12.25,-1.23),(12.69,-1.12),(13.13,-1.29),(13.57,-1.45),(14.01,-1.51),(14.45,-1.45),(14.89,-1.67),(15.11,-1.84),(15.66,-1.78),(16.21,-1.73),(16.65,-1.95),(17.09,-2.11),(17.53,-2.00),(17.97,-1.84),(18.50,-1.80)]
D_PURPLE_DIVE = [(0.3,0.1),(0.45,0.0),(0.6,-0.35),(0.5,-0.55),(0.75,-0.65),(1.1,-0.55),(1.4,-0.3),(1.7,-0.15),(2.0,-0.05),(2.4,-0.25),(2.9,-0.35),(3.3,-0.2),(3.8,-0.05),(4.3,-0.25),(4.8,-0.2),(5.3,-0.05),(5.8,0.1),(6.3,0.0),(6.8,-0.15),(7.3,-0.1),(7.8,0.05),(8.3,0.2),(8.8,0.15),(9.3,-0.05),(9.8,-0.2),(10.3,-0.15),(10.8,0.0),(11.3,0.35),(11.8,0.6),(12.2,0.55),(12.6,0.35),(13.0,0.25),(13.35,0.31),(13.68,0.42),(13.90,0.53),(13.96,0.97),(14.18,1.08),(14.45,0.97),(14.78,0.80),(15.11,0.86),(15.38,0.97),(15.55,0.75),(15.66,0.42),(15.99,0.09),(16.21,-0.35),(16.43,-0.57),(16.54,-1.12),(16.65,-1.78),(16.87,-2.22),(17.31,-2.49),(17.75,-2.77),(18.19,-2.88),(18.63,-3.04),(19.07,-3.23),(19.51,-3.26),(19.95,-3.15),(20.38,-3.10),(20.60,-2.99),(21.04,-2.93),(21.48,-2.88),(21.92,-2.82),(22.36,-2.44),(22.80,-2.38),(23.24,-2.49),(23.68,-2.38),(24.12,-2.22),(24.56,-2.22),(25.00,-2.33),(25.44,-2.27),(25.88,-2.22),(26.32,-2.11),(26.76,-2.05),(27.20,-2.11),(27.42,-1.78),(27.75,-1.45),(27.80,-0.90),(27.86,-0.68),(28.08,-0.46),(28.24,-0.13),(28.30,0.20),(28.52,0.14)]
D_TEAL_LOW = [(0.2,-0.1),(0.6,-0.35),(1.2,-0.55),(1.8,-0.45),(2.4,-0.65),(3.0,-0.9),(3.6,-0.85),(4.1,-0.95),(4.4,-0.7),(4.8,-0.5),(5.3,-0.55),(5.9,-0.7),(6.5,-0.85),(7.1,-0.8),(7.6,-0.9),(8.1,-0.8),(8.6,-0.75),(9.1,-0.9),(9.6,-1.1),(10.0,-1.2),(10.5,-1.0),(11.0,-0.85),(11.5,-0.95),(12.0,-1.1),(12.5,-1.25),(13.0,-1.1),(13.5,-0.9),(14.0,-1.0),(14.5,-1.15),(15.0,-1.05),(15.5,-1.2),(16.0,-1.4),(16.5,-1.6),(17.0,-1.75),(17.5,-1.85),(18.0,-2.0),(18.5,-1.9),(19.0,-1.7),(19.5,-1.6),(20.0,-1.5)]
D_MARKS = {"start": (0, 0), "goal": (29, 0)}

# Panel (e): agents passing through a narrow gap
E_WALLS = {"top": (7.43, 9.45), "bottom": (-9.29, -7.17), "stem_x": (5.9, 7.9), "gap": (-0.88, 1.32)}
E_DARK_1 = [(0.0,0.0),(0.29,0.37),(0.55,0.57),(0.68,0.83),(0.42,1.03),(0.36,1.22),(0.62,1.42),(0.68,1.75),(1.01,1.68),(1.34,1.62),(1.54,1.82),(1.47,1.42),(1.41,1.09),(1.54,0.83),(1.90,0.60),(2.30,0.35),(2.70,0.15),(3.10,0.30),(3.50,0.60),(3.90,0.45),(4.30,0.20),(4.70,0.35),(5.10,0.60),(5.50,0.45),(5.90,0.55),(6.30,0.75),(6.70,0.90),(7.10,0.95),(7.50,1.00),(7.90,1.20),(7.95,1.70),(7.95,2.10),(8.32,2.20),(8.71,2.79),(9.24,2.47),(9.63,2.01),(9.56,1.68),(9.24,1.28),(9.17,0.89),(9.24,0.50),(9.60,0.30),(10.03,0.43),(10.55,0.63),(10.95,0.89),(11.34,1.09),(11.74,1.42),(12.13,1.62),(12.53,1.55),(12.92,1.45),(13.32,1.75),(13.71,2.14),(14.11,2.34),(14.50,2.21),(14.89,2.21),(15.29,2.47),(15.55,2.53),(15.82,2.57)]
E_DARK_2 = [(0.0,0.0),(0.4,-0.2),(0.8,-0.3),(1.2,-0.1),(1.6,0.1),(2.0,-0.15),(2.4,-0.35),(2.8,-0.2),(3.2,0.05),(3.6,0.2),(4.0,0.1),(4.4,-0.15),(4.8,-0.05),(5.2,0.2),(5.6,0.35),(6.0,0.25),(6.4,0.1),(6.8,0.2),(7.2,0.45),(7.6,0.55),(8.0,0.4),(8.4,0.3),(8.8,0.5),(9.2,0.6),(9.6,0.4),(9.95,0.2),(10.29,0.17),(10.82,0.30),(11.34,0.43),(11.87,0.57),(12.39,0.70),(12.92,0.50),(13.45,0.76),(13.84,0.96),(14.24,0.92),(14.63,1.09)]
E_DARK_3 = [(0.0,0.0),(0.3,-0.5),(0.6,-0.7),(1.0,-0.55),(1.4,-0.75),(1.8,-0.95),(2.2,-0.7),(2.6,-0.4),(3.0,-0.55),(3.4,-0.75),(3.8,-0.5),(4.2,-0.3),(4.6,-0.45),(5.0,-0.25),(5.4,0.05),(5.8,0.2),(6.2,0.4),(6.6,0.6),(7.0,0.45),(7.4,0.3),(7.8,0.5),(8.2,0.7),(8.6,0.55),(9.0,0.3),(9.4,0.35),(9.8,0.5),(10.29,0.39),(10.82,0.24),(11.34,0.13),(11.87,0.37),(12.26,0.57),(12.66,0.50),(13.18,0.26),(13.58,0.50),(13.97,0.61),(14.50,0.47),(14.89,0.57),(15.29,0.63),(15.55,0.61)]
E_OLIVE = [(0.0,0.0),(-0.50,0.37),(-0.89,-0.09),(-0.63,-0.42),(-0.37,-0.82),(0.03,-1.08),(0.29,-0.95),(0.55,-0.55),(0.82,-0.03),(0.95,0.30),(0.68,0.57),(0.88,0.76),(0.88,1.16),(0.55,1.09),(0.29,0.76),(0.6,0.6),(1.2,0.4),(1.7,0.15),(2.2,0.2),(2.7,0.45),(3.2,0.55),(3.6,0.35),(3.9,0.6),(4.2,0.85),(4.5,0.7),(4.9,0.4),(5.3,0.5),(5.7,0.75),(6.1,0.8),(6.5,0.5),(6.9,0.35),(7.3,0.4),(7.7,0.25),(8.1,0.0),(8.4,-0.3),(8.8,-0.5),(9.2,-0.6),(9.6,-0.55),(10.0,-0.75),(10.4,-0.95),(10.8,-1.0),(11.2,-0.8),(11.61,-0.95),(12.13,-1.08),(12.66,-1.01),(12.92,-0.95),(13.18,-0.42),(13.58,-0.36),(13.97,-0.29),(14.37,-0.16),(14.70,0.0),(15.16,0.04),(15.55,-0.05),(15.95,-0.09)]
E_SALMON = [(0.3,0.3),(0.82,0.57),(1.34,0.70),(1.87,0.89),(2.26,0.63),(2.59,0.57),(2.59,0.17),(2.39,-0.16),(2.26,-0.55),(2.0,-0.82),(2.0,-1.47),(2.39,-1.61),(3.05,-1.67),(3.58,-1.80),(4.11,-1.80),(4.37,-2.00),(4.37,-2.39),(4.50,-2.00),(4.89,-1.80),(5.42,-1.47),(5.68,-1.08),(5.95,-0.75),(6.47,-0.70),(7.13,-0.72),(7.66,-0.72),(8.00,-0.60),(8.30,-0.45),(8.60,-0.35),(8.90,0.00),(9.11,0.24),(9.24,0.50),(9.76,0.43),(10.16,0.30),(10.55,0.11),(11.08,0.17),(11.47,0.24),(11.87,0.11),(12.13,-0.16),(12.39,-0.42),(12.79,-0.62),(13.05,-1.08),(13.18,-1.34),(13.45,-1.21),(13.71,-0.95),(14.11,-0.68),(14.50,-0.62),(15.03,-0.62)]
E_GREEN = [(0.42,-0.22),(0.90,-0.12),(1.34,-0.09),(2.00,0.17),(2.26,0.24),(2.39,0.04),(2.80,0.20),(3.18,0.43),(3.38,0.43),(3.71,0.04),(4.24,-0.16),(4.50,-0.49),(4.89,-0.55),(5.29,-0.36),(5.68,0.17),(5.88,0.30),(6.08,-0.03),(6.47,-0.22),(6.87,-0.09),(7.13,0.17),(7.39,0.34),(7.79,0.43),(8.18,0.17),(8.45,-0.42),(8.71,-0.55),(9.11,-0.95),(9.37,-1.14),(9.63,-1.41),(9.89,-1.34),(10.29,-1.41),(10.82,-1.61),(11.21,-1.67),(11.74,-1.47),(12.13,-1.47),(12.53,-1.67),(12.92,-1.74),(13.32,-1.58),(13.71,-1.47),(14.11,-1.67),(14.37,-1.71)]
E_BLUE = [(0.03,-0.42),(0.29,-0.55),(0.68,-0.82),(0.95,-0.75),(1.21,-0.82),(1.34,-1.21),(1.74,-1.47),(2.13,-1.54),(2.39,-1.61),(2.66,-1.87),(2.92,-2.13),(3.05,-2.53),(3.25,-2.92),(3.45,-2.86),(3.71,-2.66),(3.97,-2.39),(4.37,-2.26),(4.76,-2.13),(5.16,-1.87),(5.42,-1.54),(5.55,-1.34),(5.75,-1.08),(5.85,-0.55),(6.08,-0.36),(6.47,-0.16),(6.74,0.0),(7.13,-0.09),(7.53,-0.16),(7.66,-0.29),(7.92,-0.55),(8.05,-0.62),(8.18,-0.75),(8.45,-0.82),(8.84,-1.21),(9.11,-1.87),(9.50,-1.93),(9.89,-1.87),(10.16,-2.14),(10.42,-2.39),(10.82,-2.26),(11.21,-2.13),(11.61,-2.26),(12.00,-2.39),(12.39,-2.39),(12.79,-2.53),(13.05,-2.79),(13.45,-2.86),(13.84,-2.66),(14.24,-2.59),(14.63,-2.66),(14.89,-2.72)]
E_DARK_4 = [(0.0,0.0),(0.03,-0.55),(-0.04,-1.08),(0.09,-1.61),(0.16,-2.13),(0.29,-2.26),(0.82,-2.13),(1.21,-2.00),(1.47,-1.74),(1.74,-1.47),(1.87,-1.08),(2.2,-0.9),(2.6,-1.1),(3.0,-1.3),(3.4,-1.1),(3.8,-0.8),(4.2,-0.7),(4.6,-0.9),(5.0,-0.7),(5.4,-0.4),(5.8,-0.2),(6.2,-0.35),(6.6,-0.5),(7.0,-0.4),(7.4,-0.2),(7.8,-0.3),(8.1,-0.6),(8.4,-0.9),(8.7,-0.8),(9.0,-0.65),(9.4,-0.9),(9.8,-1.3),(10.2,-1.45),(10.6,-1.3),(11.0,-1.2),(11.4,-1.45),(11.87,-1.61),(12.39,-1.47),(12.92,-1.28),(13.32,-1.41),(13.71,-1.67),(14.11,-1.80),(14.50,-1.61),(15.03,-1.47),(15.42,-1.37),(15.82,-1.34)]
E_DARK_5 = [(0.0,0.0),(0.4,0.15),(0.8,-0.05),(1.2,-0.35),(1.6,-0.5),(2.0,-0.3),(2.4,-0.05),(2.8,0.15),(3.2,-0.1),(3.6,-0.4),(4.0,-0.55),(4.4,-0.35),(4.8,-0.05),(5.2,0.1),(5.6,-0.1),(6.0,-0.25),(6.4,-0.1),(6.8,0.1),(7.2,-0.05),(7.6,-0.25),(8.0,-0.45),(8.4,-0.6),(8.8,-0.7),(9.2,-0.85),(9.5,-1.1),(9.9,-1.05),(10.3,-1.2),(10.7,-1.5),(11.1,-1.7),(11.5,-1.65),(11.9,-1.5),(12.3,-1.6),(12.7,-1.75),(13.1,-1.7),(13.4,-1.75),(13.71,-1.80),(14.11,-1.93),(14.50,-1.87),(14.89,-1.87),(15.29,-2.00),(15.68,-2.07),(16.08,-2.00),(16.34,-1.93),(16.67,-2.03)]
E_DARK_6 = [(0.0,0.0),(0.5,-0.4),(1.0,-0.3),(1.5,-0.55),(2.0,-0.45),(2.5,-0.8),(3.0,-0.95),(3.5,-0.8),(4.0,-1.0),(4.5,-1.2),(5.0,-1.0),(5.4,-0.75),(5.8,-0.45),(6.2,-0.2),(6.6,-0.3),(7.0,-0.45),(7.4,-0.35),(7.8,-0.55),(8.2,-0.8),(8.5,-1.2),(8.9,-1.4),(9.2,-1.6),(9.5,-1.9),(9.8,-2.1),(10.2,-2.2),(10.55,-2.39),(10.95,-2.79),(11.34,-2.99),(11.74,-2.92),(12.26,-2.79),(12.79,-3.05),(13.18,-3.18),(13.58,-3.58),(13.97,-3.78),(14.37,-3.58),(14.76,-3.45),(15.16,-3.51),(15.55,-3.71),(15.82,-3.68)]
E_DARK_7 = [(0.0,0.0),(0.5,0.3),(1.0,0.2),(1.5,0.35),(2.0,0.55),(2.5,0.7),(3.0,0.95),(3.4,1.05),(3.8,1.1),(4.2,1.0),(4.6,0.85),(5.0,1.0),(5.4,1.1),(5.8,0.9),(6.2,0.7),(6.6,0.75),(7.0,0.8),(7.4,0.7),(7.8,0.85),(8.2,0.7),(8.5,0.4),(8.7,0.0),(8.8,-0.4),(9.0,-0.8),(9.1,-1.2),(9.4,-1.6),(9.7,-1.95),(10.1,-2.1),(10.4,-2.3),(10.7,-2.2),(11.0,-2.0),(11.3,-1.8)]
E_NAVY = [(0.2,-0.2),(0.6,-0.45),(1.1,-0.6),(1.6,-0.4),(2.1,-0.25),(2.6,-0.5),(3.1,-0.7),(3.6,-0.55),(4.1,-0.35),(4.6,-0.15),(5.1,-0.3),(5.6,-0.05),(6.0,0.05),(6.5,0.0),(7.0,0.0),(7.5,0.0),(8.0,0.0),(8.5,0.0),(9.0,0.0),(9.5,0.02),(10.0,0.0)]
E_MARKS = {"start": (0, 0)}

LABELS = ["(a)", "(b)", "(c)", "(d)", "(e)"]

# ---------------- LAYOUT (pixel boxes of each panel) ----------------
W, H = 1158, 1686
MAJOR, MINOR = "#d2d2d2", "#eeeeee"


def dx(p0, p1):
    return [p0 / W, p1 / W]


def dy(p0, p1):
    return [1 - p1 / H, 1 - p0 / H]


PANELS = {
    1: dict(x=dx(9, 527), y=dy(32, 201), xr=[-0.98, 21.06], yr=[-3.06, 4.13]),
    2: dict(x=dx(642, 1158), y=dy(9, 224), xr=[-1.02, 20.94], yr=[-4.04, 5.11]),
    3: dict(x=dx(326, 840), y=dy(300, 740), xr=[-7.0, 7.0], yr=[-6.0, 6.0]),
    4: dict(x=dx(65, 1103), y=dy(817, 1090), xr=[-3.17, 31.09], yr=[-4.5, 4.5]),
    5: dict(x=dx(296, 872), y=dy(1166, 1640), xr=[-4.62, 18.14], yr=[-9.29, 9.45]),
}
LABEL_POS = [(267, 230), (900, 255), (583, 771), (583, 1120), (583, 1668)]

fig = go.Figure()


def axname(i, kind):
    return f"{kind}{'' if i == 1 else i}"


def add_path(i, pts, color, width, smoothing=1.0):
    fig.add_trace(go.Scatter(
        x=[p[0] for p in pts], y=[p[1] for p in pts], mode="lines",
        line=dict(color=color, width=width, shape="spline", smoothing=smoothing),
        xaxis=axname(i, "x"), yaxis=axname(i, "y"), hoverinfo="skip", showlegend=False))


def add_marker(i, pt, color, size, symbol="x-thin", lw=3):
    m = dict(symbol=symbol, size=size, color=color, line=dict(color=color, width=lw))
    if symbol == "x":
        m["line"] = dict(width=0)
    fig.add_trace(go.Scatter(x=[pt[0]], y=[pt[1]], mode="markers", marker=m,
                             xaxis=axname(i, "x"), yaxis=axname(i, "y"),
                             hoverinfo="skip", showlegend=False))


def add_letter(i, pt, color):
    fig.add_trace(go.Scatter(x=[pt[0]], y=[pt[1]], mode="text", text=["X"],
                             textposition="middle center",
                             textfont=dict(family="DejaVu Sans", size=30, color=color, weight=900),
                             xaxis=axname(i, "x"), yaxis=axname(i, "y"),
                             hoverinfo="skip", showlegend=False))


# (a)
add_path(1, A_RED, "#e31b54", 3.0)
add_path(1, A_BLUE, "#2f8fe0", 2.0)
add_marker(1, A_MARKS["blue"], "#2f8fe0", 12)
add_marker(1, A_MARKS["red"], "#e31b54", 12)

# (b)
add_path(2, B_RED, "#e31b54", 2.0)
add_path(2, B_BLUE, "#2f8fe0", 3.0)
add_marker(2, B_MARKS["red"], "#e31b54", 12)
add_marker(2, B_MARKS["blue"], "#2f8fe0", 12)

# (c)
CW = 2.8
add_path(3, C_BLUE_STEM, "#1f87e0", 1.8, smoothing=0)
add_path(3, C_GREEN, "#2ec22e", CW)
add_path(3, C_TURQUOISE, "#3fd9c9", CW)
add_path(3, C_SALMON, "#ff8f88", CW)
add_path(3, C_CRIMSON, "#e6224f", CW)
add_path(3, C_PURPLE, "#c238e6", CW)
add_path(3, C_BLUE, "#1f87e0", CW)
add_path(3, C_DARKRED, "#7b2a35", CW)
add_path(3, C_NAVY, "#2b4a80", CW)
for col, pt in C_MARKS:
    add_letter(3, pt, col)

# (d)
DW = 1.3
D_SERIES = [
    (D_OLIVE_LONG, "#7f7a33"), (D_PURPLE_DIVE, "#6c2390"), (D_PURPLE_LOW, "#702a8c"),
    (D_OLIVE_LOW, "#858040"), (D_MAUVE, "#8b5a5a"), (D_NAVY_LOW, "#34347e"),
    (D_TEAL_LOW, "#4f8a8a"), (D_TEAL, "#4a8282"), (D_GREEN_MID, "#33cc44"),
    (D_DARK_MID, "#3a1616"), (D_NAVY_TOP, "#33337f"), (D_GREEN_TOP, "#33c93a"),
    (D_BROWN_TOP, "#4b1d1d"), (D_OLIVE_MID, "#8a7b20"), (D_OLIVE_TOP, "#8a7b20"),
    (D_BLUE_B, "#2b98ec"), (D_BLUE_A, "#2b98ec"), (D_CRIMSON_MID, "#e6245a"),
    (D_CRIMSON_TOP, "#e6245a"),
]
for pts, col in D_SERIES:
    add_path(4, pts, col, DW)
add_marker(4, D_MARKS["start"], "#ef3b63", 18, symbol="x")
add_marker(4, D_MARKS["goal"], "#22c4f2", 19, symbol="x")

# (e)
EW = 1.2
E_SERIES = [
    (E_DARK_6, "#41303a"), (E_DARK_5, "#30303c"), (E_DARK_4, "#3a2a33"), (E_DARK_7, "#3c3846"),
    (E_NAVY, "#2f4467"), (E_DARK_3, "#4a3552"), (E_DARK_2, "#41504a"), (E_DARK_1, "#3b3040"),
    (E_OLIVE, "#5e5535"), (E_SALMON, "#f59a94"), (E_BLUE, "#2d8fe8"), (E_GREEN, "#1fe04e"),
]
for pts, col in E_SERIES:
    add_path(5, pts, col, EW)
add_marker(5, E_MARKS["start"], "#f0306e", 14, symbol="x")

# axes
layout_axes = {}
for i, p in PANELS.items():
    common = dict(showgrid=True, gridcolor=MAJOR, gridwidth=1, tick0=0, dtick=10,
                  minor=dict(tick0=0, dtick=1, showgrid=True, gridcolor=MINOR, gridwidth=1),
                  zeroline=False, showticklabels=False, ticks="", showline=False, fixedrange=True)
    layout_axes["xaxis" if i == 1 else f"xaxis{i}"] = dict(domain=p["x"], range=p["xr"], anchor=axname(i, "y"), **common)
    layout_axes["yaxis" if i == 1 else f"yaxis{i}"] = dict(domain=p["y"], range=p["yr"], anchor=axname(i, "x"), **common)

shapes = []
# (b) obstacle
x0, x1, y0, y1 = B_OBSTACLE
shapes.append(dict(type="rect", xref="x2", yref="y2", x0=x0, x1=x1, y0=y0, y1=y1,
                   fillcolor="#555355", line=dict(color="#8a8a8a", width=1), layer="between"))
# (d) corridor walls
for (w0, w1) in D_WALLS:
    shapes.append(dict(type="rect", xref="x4", yref="y4", x0=PANELS[4]["xr"][0], x1=PANELS[4]["xr"][1],
                       y0=w0, y1=w1, fillcolor="#5e5b5a", line=dict(width=0), layer="between"))
# (e) H-shaped walls
ex0, ex1 = PANELS[5]["xr"]
sx0, sx1 = E_WALLS["stem_x"]
g0, g1 = E_WALLS["gap"]
t0, t1 = E_WALLS["top"]
b0, b1 = E_WALLS["bottom"]
for r in [(ex0, ex1, t0, t1), (ex0, ex1, b0, b1), (sx0, sx1, g1, t0), (sx0, sx1, b1, g0)]:
    shapes.append(dict(type="rect", xref="x5", yref="y5", x0=r[0], x1=r[1], y0=r[2], y1=r[3],
                       fillcolor="#727176", line=dict(width=0), layer="between"))

annotations = []
for lab, (px, py) in zip(LABELS, LABEL_POS):
    annotations.append(dict(text=lab, x=px / W, y=1 - py / H, xref="paper", yref="paper",
                            showarrow=False, xanchor="center", yanchor="middle",
                            font=dict(family="Liberation Serif, serif", size=31, color="#1a1a1a")))

fig.update_layout(width=W, height=H, margin=dict(l=0, r=0, t=0, b=0, pad=0),
                  paper_bgcolor="white", plot_bgcolor="white", showlegend=False,
                  hovermode=False, shapes=shapes, annotations=annotations, **layout_axes)

fig.write_html("out.html", config={"displayModeBar": False})
